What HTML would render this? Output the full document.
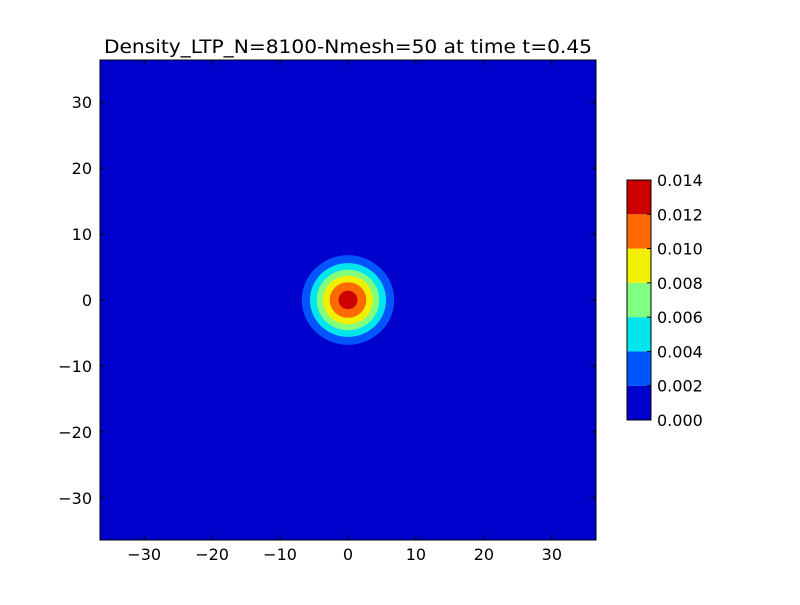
<!DOCTYPE html>
<html><head><meta charset="utf-8"><style>
body{margin:0;background:#fff;}
svg text{font-family:"DejaVu Sans","Liberation Sans",sans-serif;}
</style></head><body>
<svg id="chart" width="800" height="600" xmlns="http://www.w3.org/2000/svg">
<rect width="800" height="600" fill="#fff"/>
<text x="348" y="53" font-size="19" text-anchor="middle" textLength="488" lengthAdjust="spacingAndGlyphs">Density_LTP_N=8100-Nmesh=50 at time t=0.45</text>
<g id="plot"></g>
<g id="cbar"></g>
</svg>
<script>
const levels=[0,0.002,0.004,0.006,0.008,0.010,0.012,0.014];
const colors=["#0000cc","#0055ff","#00e5ee","#80ff80","#f0f000","#ff6a00","#cc0000"];
// contour radii (data units) for the region above each level
const contourRadii=[6.8,5.6,4.6,3.7,2.7,1.4];
const ticks=[-30,-20,-10,0,10,20,30];
const tickLabels=["\u221230","\u221220","\u221210","0","10","20","30"];
const cbarLabels=["0.000","0.002","0.004","0.006","0.008","0.010","0.012","0.014"];
const ns="http://www.w3.org/2000/svg";
const L=100,R=596,T=60,B=540,xmin=-36.5,xmax=36.5,ymin=-36.4,ymax=36.4;
const sx=v=>L+(v-xmin)/(xmax-xmin)*(R-L);
const sy=v=>B-(v-ymin)/(ymax-ymin)*(B-T);
function mk(tag,attrs,parent){const e=document.createElementNS(ns,tag);for(const k in attrs)e.setAttribute(k,attrs[k]);parent.appendChild(e);return e;}
const plot=document.getElementById('plot');
let bg=mk('rect',{x:L,y:T,width:R-L,height:B-T,fill:colors[0]},plot);


contourRadii.forEach((r,i)=>{
  const e=mk('ellipse',{cx:sx(0),cy:sy(0),rx:sx(r)-sx(0),ry:sy(0)-sy(r),fill:colors[i+1]},plot);
  
  
});
let fr=mk('rect',{x:L,y:T,width:R-L,height:B-T,fill:'none',stroke:'#000','stroke-width':1},plot);


ticks.forEach((t,i)=>{
  const x=sx(t),y=sy(t);
  mk('line',{x1:x,y1:B,x2:x,y2:B-5,stroke:'#000'},plot);
  mk('line',{x1:x,y1:T,x2:x,y2:T+5,stroke:'#000'},plot);
  mk('line',{x1:L,y1:y,x2:L+5,y2:y,stroke:'#000'},plot);
  mk('line',{x1:R,y1:y,x2:R-5,y2:y,stroke:'#000'},plot);
  const tx=mk('text',{x:x,y:B+20,'font-size':16,'text-anchor':'middle'},plot);tx.textContent=tickLabels[i];
  
  
  const ty=mk('text',{x:L-8,y:y+6,'font-size':16,'text-anchor':'end'},plot);ty.textContent=tickLabels[i];
  
  
});
const cb=document.getElementById('cbar');
const cL=627,cR=651,cT=180,cB=420;
const cy=v=>cB-(v-levels[0])/(levels[levels.length-1]-levels[0])*(cB-cT);
colors.forEach((c,i)=>{
  const r=mk('rect',{x:cL,y:cy(levels[i+1]),width:cR-cL,height:cy(levels[i])-cy(levels[i+1]),fill:c},cb);
  
  
});
let cf=mk('rect',{x:cL,y:cT,width:cR-cL,height:cB-cT,fill:'none',stroke:'#000'},cb);


levels.forEach((v,i)=>{
  const y=cy(v);
  mk('line',{x1:cR,y1:y,x2:cR-4,y2:y,stroke:'#000'},cb);
  const t=mk('text',{x:cR+6,y:y+6,'font-size':16},cb);t.textContent=cbarLabels[i];
  
  
});
</script>
</body></html>
